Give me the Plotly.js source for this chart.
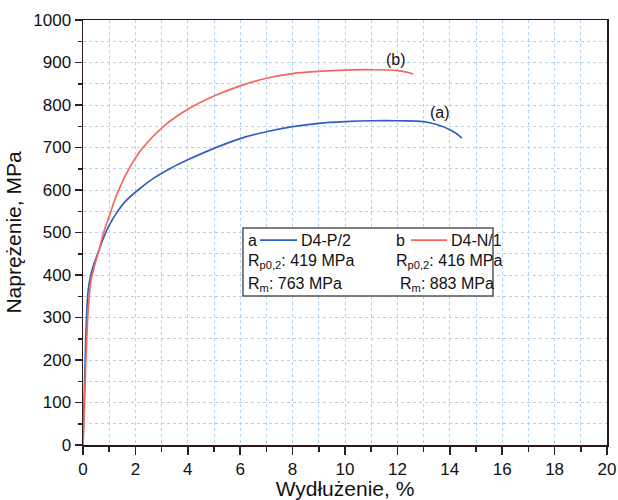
<!DOCTYPE html>
<html>
<head>
<meta charset="utf-8">
<script src="https://cdn.plot.ly/plotly-3.0.1.min.js"></script>
<style>html,body{margin:0;padding:0;background:#fff}#chart{width:618px;height:500px}</style>
</head>
<body>
<div id="chart"></div>
<script>
// Sample a: D4-P/2 (blue)
const strainA = [0, 0.05, 0.1, 0.15, 0.2, 0.3, 0.4, 0.5, 0.62, 0.81, 1.0, 1.27, 1.6, 2.1, 2.7, 3.37, 4.0, 5.0, 6.0, 7.0, 8.0, 9.0, 10.0, 11.0, 12.0, 13.0, 13.5, 14.0, 14.25, 14.46];
const stressA = [0, 120, 240, 320, 365, 400, 423, 440, 460, 492, 517, 545, 572, 600, 628, 652, 671, 698, 721, 737, 749, 757, 761, 763, 763, 761, 754, 742, 733, 722];
// Sample b: D4-N/1 (red)
const strainB = [0, 0.05, 0.1, 0.15, 0.2, 0.3, 0.4, 0.5, 0.62, 0.76, 1.0, 1.34, 1.8, 2.29, 3.12, 4.0, 5.0, 6.0, 7.0, 8.0, 9.0, 10.0, 11.0, 12.0, 12.3, 12.6];
const stressB = [0, 80, 180, 260, 320, 385, 412, 435, 460, 494, 538, 597, 655, 700, 752, 790, 821, 845, 863, 874, 879, 882, 883, 881, 878, 873];

const xTickVals = [0, 2, 4, 6, 8, 10, 12, 14, 16, 18, 20];
const yTickVals = [0, 100, 200, 300, 400, 500, 600, 700, 800, 900, 1000];

const legendLabels = ["a", "D4-P/2", "b", "D4-N/1"];
const rp02 = ["R<sub>p0,2</sub>: 419 MPa", "R<sub>p0,2</sub>: 416 MPa"];
const rm = ["R<sub>m</sub>: 763 MPa", "R<sub>m</sub>: 883 MPa"];
const curveLabels = ["(a)", "(b)"];

const blue = "#2f5fc4";
const red = "#f2685c";
const font = "Liberation Sans, Arial, sans-serif";

const traces = [
  {x: strainA, y: stressA, mode: "lines", line: {color: blue, width: 1.7, shape: "spline", smoothing: 1}, hoverinfo: "skip"},
  {x: strainB, y: stressB, mode: "lines", line: {color: red, width: 1.7, shape: "spline", smoothing: 1}, hoverinfo: "skip"}
];

const gridStyle = {gridcolor: "#b3d1ea", griddash: "dot", gridwidth: 1};

const layout = {
  width: 618, height: 500,
  margin: {l: 83, r: 11, t: 20, b: 55},
  paper_bgcolor: "#fff", plot_bgcolor: "#fff",
  showlegend: false,
  font: {family: font, color: "#111", size: 16},
  xaxis: Object.assign({
    range: [0, 20], tickvals: xTickVals, ticktext: xTickVals.map(String),
    showgrid: true, zeroline: false,
    showline: true, linecolor: "#2a1a1a", linewidth: 1.5, mirror: true,
    ticks: "outside", ticklen: 8, tickwidth: 1.5, tickcolor: "#222",
    minor: Object.assign({dtick: 1, tick0: 0, ticks: "outside", ticklen: 5, tickwidth: 1.5, tickcolor: "#222", showgrid: true}, gridStyle),
    tickfont: {size: 17, family: font},
    title: {text: "Wydłużenie, %", font: {size: 21, family: font}, standoff: 4}
  }, gridStyle),
  yaxis: Object.assign({
    range: [0, 1000], tickvals: yTickVals, ticktext: yTickVals.map(String),
    showgrid: true, zeroline: false,
    showline: true, linecolor: "#2a1a1a", linewidth: 1.5, mirror: true,
    ticks: "outside", ticklen: 7, tickwidth: 1.5, tickcolor: "#222",
    minor: Object.assign({dtick: 50, tick0: 0, ticks: "outside", ticklen: 4, tickwidth: 1.5, tickcolor: "#222", showgrid: true}, gridStyle),
    tickfont: {size: 17, family: font},
    title: {text: "Naprężenie, MPa", font: {size: 21, family: font}, standoff: 6}
  }, gridStyle),
  shapes: [
    {type: "rect", xref: "paper", yref: "paper", x0: 0.3053, x1: 0.7824, y0: 0.3506, y1: 0.5106,
     line: {color: "#555", width: 1.5}, fillcolor: "#fff", layer: "above"},
    {type: "line", xref: "paper", yref: "paper", x0: 0.3378, x1: 0.4084, y0: 0.482, y1: 0.482, line: {color: blue, width: 1.8}},
    {type: "line", xref: "paper", yref: "paper", x0: 0.626, x1: 0.695, y0: 0.482, y1: 0.482, line: {color: red, width: 1.8}}
  ],
  annotations: [
    {xref: "paper", yref: "paper", x: 0.3115, y: 0.482, text: legendLabels[0], showarrow: false, xanchor: "left", yanchor: "middle", font: {size: 16}},
    {xref: "paper", yref: "paper", x: 0.4125, y: 0.482, text: legendLabels[1], showarrow: false, xanchor: "left", yanchor: "middle", font: {size: 16}},
    {xref: "paper", yref: "paper", x: 0.5935, y: 0.482, text: legendLabels[2], showarrow: false, xanchor: "left", yanchor: "middle", font: {size: 16}},
    {xref: "paper", yref: "paper", x: 0.699, y: 0.482, text: legendLabels[3], showarrow: false, xanchor: "left", yanchor: "middle", font: {size: 16}},
    {xref: "paper", yref: "paper", x: 0.3115, y: 0.432, text: rp02[0], showarrow: false, xanchor: "left", yanchor: "middle", font: {size: 16}},
    {xref: "paper", yref: "paper", x: 0.5935, y: 0.432, text: rp02[1], showarrow: false, xanchor: "left", yanchor: "middle", font: {size: 16}},
    {xref: "paper", yref: "paper", x: 0.3115, y: 0.377, text: rm[0], showarrow: false, xanchor: "left", yanchor: "middle", font: {size: 16}},
    {xref: "paper", yref: "paper", x: 0.6005, y: 0.377, text: rm[1], showarrow: false, xanchor: "left", yanchor: "middle", font: {size: 16}},
    {xref: "paper", yref: "paper", x: 0.681, y: 0.7835, text: curveLabels[0], showarrow: false, xanchor: "center", yanchor: "middle", font: {size: 16}},
    {xref: "paper", yref: "paper", x: 0.597, y: 0.907, text: curveLabels[1], showarrow: false, xanchor: "center", yanchor: "middle", font: {size: 16}}
  ]
};

Plotly.newPlot("chart", traces, layout, {displayModeBar: false, staticPlot: true});
</script>
</body>
</html>
